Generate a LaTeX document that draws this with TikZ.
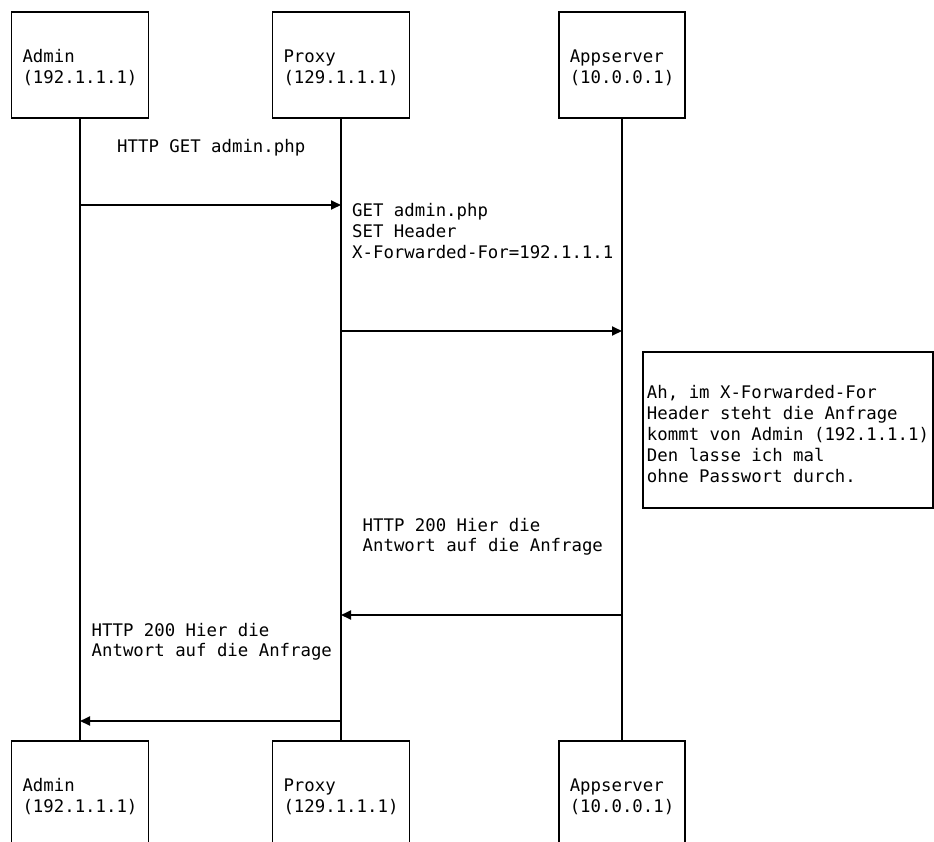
\documentclass[tikz,border=0pt]{standalone}
\usepackage{fontspec}
\setmonofont{DejaVu Sans Mono}
\usetikzlibrary{arrows.meta}
\tikzset{
  txt/.style={font=\ttfamily\fontsize{17.35pt}{20.8pt}\selectfont},
  actor/.style={txt, draw, line width=1.8pt, rectangle, minimum height=106pt,
    inner xsep=11pt, inner ysep=0pt, align=left, fill=white,
    text height=36pt, text depth=0pt},
  life/.style={line width=1.8pt},
  msg/.style={line width=1.8pt, -{Triangle[length=10pt,width=9pt]}},
  lbl/.style={txt, anchor=base west, inner sep=0pt, align=left},
  notebox/.style={txt, draw, line width=1.8pt, rectangle, minimum height=156pt,
    minimum width=290pt, inner sep=0pt, align=left,
    text height=104pt, text depth=0pt}
}
\begin{document}
\begin{tikzpicture}[x=1pt,y=-1pt]
\useasboundingbox (0,0) rectangle (934,841);
\clip (0,0) rectangle (934,841);
% actors top
\node[actor] (adminT) at (80,65) {Admin\\(192.1.1.1)};
\node[actor] (proxyT) at (341,65) {Proxy\\(129.1.1.1)};
\node[actor] (appT) at (622,65) {Appserver\\(10.0.0.1)};
% actors bottom
\node[actor] (adminB) at (80,794) {Admin\\(192.1.1.1)};
\node[actor] (proxyB) at (341,794) {Proxy\\(129.1.1.1)};
\node[actor] (appB) at (622,794) {Appserver\\(10.0.0.1)};
% lifelines
\draw[life] (adminT) -- (adminB);
\draw[life] (proxyT) -- (proxyB);
\draw[life] (appT) -- (appB);
% message points
\coordinate (a1) at (80,205);
\coordinate (p1) at (341,205);
\coordinate (p2) at (341,331);
\coordinate (s2) at (622,331);
\coordinate (s3) at (622,615);
\coordinate (p3) at (341,615);
\coordinate (p4) at (341,721);
\coordinate (a4) at (80,721);
\draw[msg] (a1) -- (p1);
\draw[msg] (p2) -- (s2);
\draw[msg] (s3) -- (p3);
\draw[msg] (p4) -- (a4);
% labels (anchored at the baseline of the last line)
\node[lbl] (l1) at (117,152) {HTTP GET admin.php};
\node[lbl] (l2) at (352,258) {GET admin.php\\SET Header\\X-Forwarded-For=192.1.1.1};
\node[lbl] (l3) at (362.5,551.8) {HTTP 200 Hier die\\Antwort auf die Anfrage};
\node[lbl] (l4) at (91.5,656.8) {HTTP 200 Hier die\\Antwort auf die Anfrage};
% note
\node[notebox] (note) at (788,430) {Ah, im X-Forwarded-For\\Header steht die Anfrage\\kommt von Admin (192.1.1.1)\\Den lasse ich mal\\ohne Passwort durch.};
\end{tikzpicture}
\end{document}
